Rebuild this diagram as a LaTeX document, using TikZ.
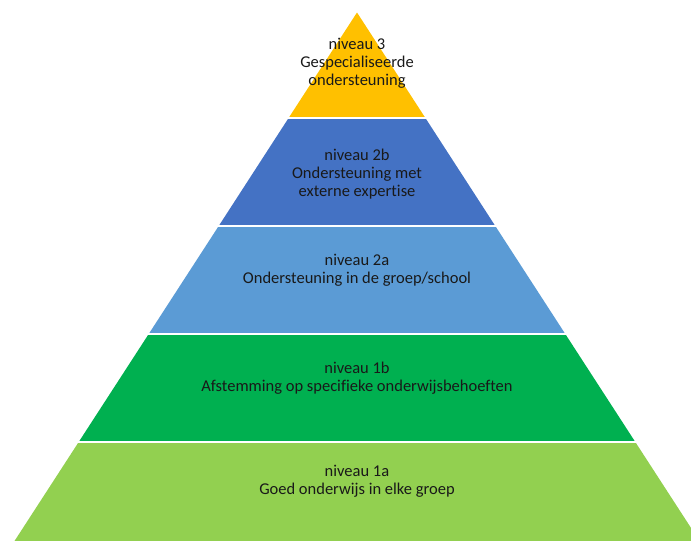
\documentclass[tikz,border=0pt]{standalone}
\usepackage{fontspec}
\setmainfont{Carlito}[Ligatures=NoCommon]
\usepackage{tikz}

\definecolor{lvlthree}{HTML}{FFC000}
\definecolor{lvltwob}{HTML}{4472C4}
\definecolor{lvltwoa}{HTML}{5B9BD5}
\definecolor{lvloneb}{HTML}{00B050}
\definecolor{lvlonea}{HTML}{92D050}

\tikzset{
    lbl/.style={align=center, text=black!90, font=\fontsize{16.5}{18}\selectfont},
    gap/.style={white, line width=2.5pt}
}

\begin{document}
\begin{tikzpicture}[x=1pt,y=-1pt]
    \useasboundingbox (0,0) rectangle (691,541);
    \clip (0,0) rectangle (691,541);

    % Bands of the pyramid
    \begin{scope}
        % Top band (niveau 3)
        \fill[lvlthree] (357,12.5) -- (425.4,118) -- (288.6,118) -- cycle;
        % niveau 2b
        \fill[lvltwob] (288.6,118) -- (425.4,118) -- (495.3,226) -- (218.7,226) -- cycle;
        % niveau 2a
        \fill[lvltwoa] (218.7,226) -- (495.3,226) -- (565.3,334) -- (148.7,334) -- cycle;
        % niveau 1b
        \fill[lvloneb] (148.7,334) -- (565.3,334) -- (635.3,442) -- (78.7,442) -- cycle;
        % niveau 1a (runs off the page at the bottom right)
        \fill[lvlonea] (78.7,442) -- (635.3,442) -- (699.5,541) -- (14.5,541) -- cycle;
    \end{scope}

    % White gaps between the bands
    \draw[gap] (286,118) -- (428,118);
    \draw[gap] (216,226) -- (498,226);
    \draw[gap] (146,334) -- (568,334);
    \draw[gap] (76,442) -- (638,442);

    % Labels
    \node[lbl] (lvl3) at (357,63) {niveau 3\\Gespecialiseerde\\ondersteuning};
    \node[lbl] (lvl2b) at (357,174) {niveau 2b\\Ondersteuning met\\externe expertise};
    \node[lbl] (lvl2a) at (357,270) {niveau 2a\\Ondersteuning in de groep/school};
    \node[lbl] (lvl1b) at (357,378) {niveau 1b\\Afstemming op specifieke onderwijsbehoeften};
    \node[lbl] (lvl1a) at (357,481) {niveau 1a\\Goed onderwijs in elke groep};

\end{tikzpicture}
\end{document}
